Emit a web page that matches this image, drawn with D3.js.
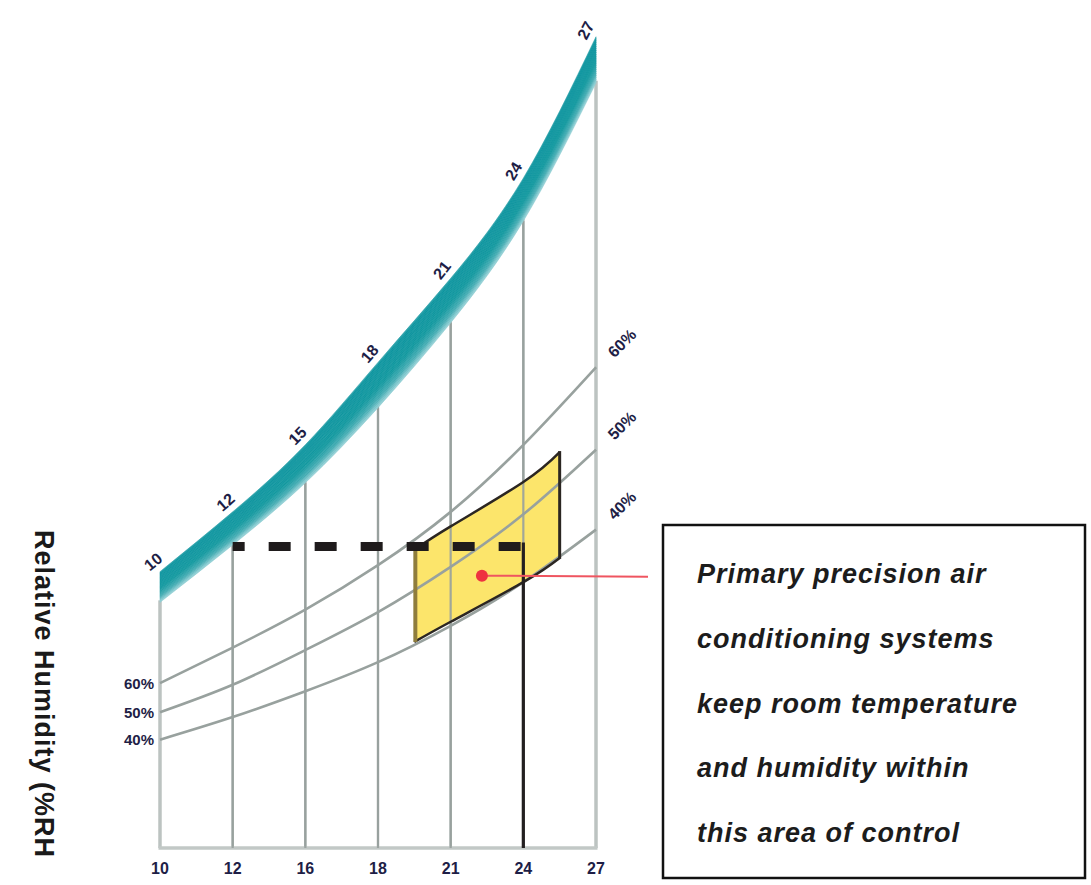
<!DOCTYPE html>
<html><head><meta charset="utf-8">
<script src="https://cdn.jsdelivr.net/npm/d3@7"></script>
<style>body{margin:0;background:#fff}svg{display:block}</style>
</head><body><svg id="c" width="1091" height="885"></svg>
<script>
// ---- data ----
const bottomTicks = ["10","12","16","18","21","24","27"];
const saturationLabels = ["10","12","15","18","21","24","27"];
const saturationUpper = [34.2, 41.6, 49.9, 60.1, 70.5, 82.9, 100.4];
const saturationLower = [30.4, 37.5, 45.2, 54.5, 65.0, 77.6, 94.7];
const rhNames = ["60%", "50%", "40%"];
const rh60 = [20.4, 24.8, 29.5, 35.0, 41.6, 49.9, 59.5];
const rh50 = [16.8, 20.2, 24.5, 29.2, 34.8, 41.3, 49.3];
const rh40 = [13.4, 16.2, 19.4, 23.0, 27.5, 32.9, 39.4];
const zoneIdx = [3.5, 4, 5, 5.5];
const zoneUpper = [36.9, 39.8, 45.3, 49.0];
const zoneLower = [25.5, 28.0, 32.9, 35.9];
const targetLevel = 37.3, targetFrom = 1, targetTo = 5;
const setpointIdx = 4.43, setpointLevel = 33.7;
const noteLines = ["Primary precision air","conditioning systems","keep room temperature","and humidity within","this area of control"];
const axisTitle = "Relative Humidity (%RH";

// ---- scales ----
const svg = d3.select("#c");
const x = d3.scaleLinear().domain([0, 6]).range([160, 596]);
const y = d3.scaleLinear().domain([0, 100]).range([848, 40]);
const idx = d3.range(bottomTicks.length);
const labelFont = "'Liberation Sans', Arial, sans-serif";
const ink = "#1e1e46";
const smooth = d3.curveNatural;

// ---- gridlines ----
idx.forEach(i => {
  const edge = i === 0 || i === 6;
  svg.append("line")
    .attr("x1", x(i)).attr("x2", x(i))
    .attr("y1", y(saturationLower[i]) - 2).attr("y2", y(0))
    .attr("stroke", edge ? "#bcc3c1" : "#98a19e")
    .attr("stroke-width", edge ? 3.5 : 2.2);
});
svg.append("line").attr("x1", x(0) - 1.5).attr("x2", x(6) + 1.5)
  .attr("y1", y(0)).attr("y2", y(0))
  .attr("stroke", "#c2c8c6").attr("stroke-width", 3.5);

// ---- comfort zone fill ----
const zonePts = zoneIdx.map((t, k) => ({t, lo: zoneLower[k], hi: zoneUpper[k]}));
const zoneArea = d3.area().x(d => x(d.t)).y0(d => y(d.lo)).y1(d => y(d.hi)).curve(smooth);
svg.append("path").datum(zonePts).attr("d", zoneArea).attr("fill", "#fce56b");

// gridlines visible through zone
idx.forEach(i => {
  if (i === 0 || i === 6) return;
  svg.append("line")
    .attr("x1", x(i)).attr("x2", x(i))
    .attr("y1", y(saturationLower[i])).attr("y2", y(0))
    .attr("stroke", "#98a19e").attr("stroke-width", 2.2).attr("opacity", 0.9);
});

// ---- RH curves ----
const rhLine = d3.line().x((d, i) => x(i)).y(d => y(d)).curve(smooth);
[rh60, rh50, rh40].forEach((s, k) => {
  svg.append("path").datum(s).attr("d", rhLine)
    .attr("fill", "none").attr("stroke", "#98a19e").attr("stroke-width", 2.6);
  svg.append("text").attr("x", x(0) - 6).attr("y", y(s[0]))
    .attr("text-anchor", "end").attr("dominant-baseline", "central")
    .attr("font-family", labelFont).attr("font-weight", "bold").attr("font-size", 15)
    .attr("fill", ink).text(rhNames[k]);
  svg.append("text")
    .attr("transform", `translate(${x(6) + 26},${y(s[6]) - 24}) rotate(-45)`)
    .attr("text-anchor", "middle").attr("dominant-baseline", "central")
    .attr("font-family", labelFont).attr("font-weight", "bold").attr("font-size", 16)
    .attr("fill", ink).text(rhNames[k]);
});

// ---- zone border ----
const zoneOutline = d3.line().x(d => x(d[0])).y(d => y(d[1])).curve(smooth);
const topEdge = zoneIdx.map((t, k) => [t, zoneUpper[k]]);
const botEdge = zoneIdx.map((t, k) => [t, zoneLower[k]]);
svg.append("path").datum(topEdge).attr("d", zoneOutline).attr("fill", "none").attr("stroke", "#2b2622").attr("stroke-width", 2.5);
svg.append("path").datum(botEdge).attr("d", zoneOutline).attr("fill", "none").attr("stroke", "#2b2622").attr("stroke-width", 2.5);
const last = zoneIdx.length - 1;
svg.append("line").attr("x1", x(zoneIdx[last])).attr("x2", x(zoneIdx[last]))
  .attr("y1", y(zoneUpper[last]) - 1).attr("y2", y(zoneLower[last]) + 1)
  .attr("stroke", "#2b2622").attr("stroke-width", 3);
svg.append("line").attr("x1", x(zoneIdx[0]) + 1).attr("x2", x(zoneIdx[0]) + 1)
  .attr("y1", y(zoneUpper[0])).attr("y2", y(zoneLower[0]))
  .attr("stroke", "#8f7d3c").attr("stroke-width", 4);

// ---- saturation band ----
const bandColor = d3.scaleLinear().domain([0, 0.06, 0.55, 0.82, 1])
  .range(["#40abb2", "#0e959f", "#12989f", "#45adb4", "#9ad4d8"]);
const slices = 24;
const bandPts = idx.map(i => ({i, hi: saturationUpper[i], lo: saturationLower[i]}));
for (let s = 0; s < slices; s++) {
  const f0 = s / slices, f1 = (s + 1) / slices;
  const a = d3.area().x(d => x(d.i))
    .y0(d => y(d.hi - (d.hi - d.lo) * f0))
    .y1(d => y(d.hi - (d.hi - d.lo) * f1))
    .curve(smooth);
  const c = bandColor((f0 + f1) / 2);
  svg.append("path").datum(bandPts).attr("d", a).attr("fill", c).attr("stroke", c).attr("stroke-width", 0.6);
}

// saturation labels along band
const upPx = idx.map(i => [x(i), y(saturationUpper[i])]);
idx.forEach(i => {
  const p0 = upPx[Math.max(0, i - 1)], p1 = upPx[Math.min(6, i + 1)];
  let dx = p1[0] - p0[0], dy = p1[1] - p0[1];
  const L = Math.hypot(dx, dy); dx /= L; dy /= L;
  const nx = dy, ny = -dx;
  const px = upPx[i][0] + dx * 1 + nx * 12;
  const py = upPx[i][1] + dy * 1 + ny * 12;
  const ang = Math.atan2(dy, dx) * 180 / Math.PI;
  svg.append("text").attr("transform", `translate(${px},${py}) rotate(${ang})`)
    .attr("text-anchor", "middle").attr("dominant-baseline", "central")
    .attr("font-family", labelFont).attr("font-weight", "bold").attr("font-size", 16)
    .attr("fill", ink).text(saturationLabels[i]);
});

// ---- bottom axis labels ----
idx.forEach(i => {
  svg.append("text").attr("x", x(i)).attr("y", y(0) + 20)
    .attr("text-anchor", "middle").attr("dominant-baseline", "central")
    .attr("font-family", labelFont).attr("font-weight", "bold").attr("font-size", 16)
    .attr("fill", ink).text(bottomTicks[i]);
});

// ---- target lines ----
svg.append("line").attr("x1", x(targetFrom)).attr("x2", x(targetTo))
  .attr("y1", y(targetLevel)).attr("y2", y(targetLevel))
  .attr("stroke", "#1f1b1c").attr("stroke-width", 9)
  .attr("stroke-dasharray", "22 24").attr("stroke-dashoffset", 10);
svg.append("line").attr("x1", x(targetTo)).attr("x2", x(targetTo))
  .attr("y1", y(targetLevel) - 4).attr("y2", y(0))
  .attr("stroke", "#231f20").attr("stroke-width", 3.2);

// ---- setpoint + connector ----
svg.append("line").attr("x1", x(setpointIdx)).attr("x2", 648)
  .attr("y1", y(setpointLevel)).attr("y2", y(setpointLevel) + 1)
  .attr("stroke", "#ef5560").attr("stroke-width", 2);
svg.append("circle").attr("cx", x(setpointIdx)).attr("cy", y(setpointLevel)).attr("r", 6)
  .attr("fill", "#ee3340");

// ---- note box ----
svg.append("rect").attr("x", 663).attr("y", 525).attr("width", 422).attr("height", 353)
  .attr("fill", "none").attr("stroke", "#111").attr("stroke-width", 2.5);
noteLines.forEach((t, k) => {
  svg.append("text").attr("x", 697).attr("y", 583 + k * 64.8)
    .attr("font-family", labelFont).attr("font-weight", "bold").attr("font-style", "italic")
    .attr("font-size", 27).attr("letter-spacing", 1).attr("fill", "#1c1c1c").text(t);
});

// ---- axis title ----
svg.append("text").attr("transform", "translate(44,530) rotate(90)")
  .attr("text-anchor", "start").attr("dominant-baseline", "central")
  .attr("font-family", labelFont).attr("font-weight", "bold").attr("font-size", 27)
  .attr("letter-spacing", 1).attr("fill", "#1a1a1a").text(axisTitle);
</script></body></html>
